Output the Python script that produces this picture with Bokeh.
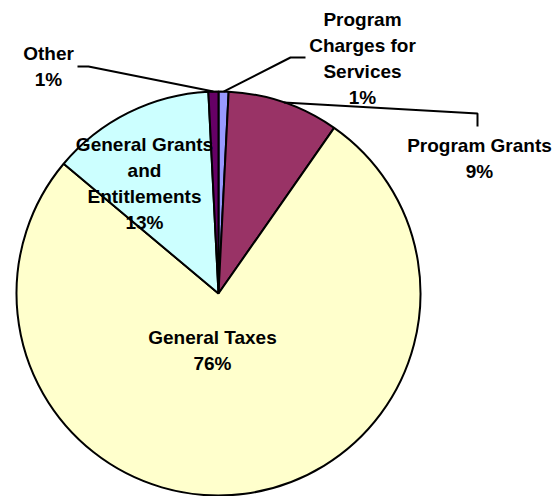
import math
from bokeh.plotting import figure
from bokeh.models import Range1d, ColumnDataSource
from bokeh.core.properties import value
from bokeh.embed import file_html
from bokeh.resources import INLINE

# ---- data ----
categories = ["Program Charges for Services", "Program Grants", "General Taxes",
              "General Grants and Entitlements", "Other"]
shares = [0.8, 8.9, 76.4, 13.1, 0.8]
label_lines = [["Program", "Charges for", "Services"], ["Program Grants"], ["General Taxes"],
               ["General Grants", "and", "Entitlements"], ["Other"]]

# ---- style / layout ----
colors = ["#9999FF", "#993366", "#FFFFCC", "#CCFFFF", "#660066"]
R = 202
LH = 26
FONT = value("Liberation Sans")
label_pos = [(144, 235), (261, 135), (-6, -57), (-74, 110), (-170, 227)]
leaders = {0: [(72, 236), (87, 236)], 1: [(259, 180), (259, 167)], 4: [(-130, 227), (-141, 227)]}

total = sum(shares)
starts, ends, mids = [], [], []
cum = 0.0
for v in shares:
    a0 = math.pi / 2 - 2 * math.pi * cum / total
    cum += v
    a1 = math.pi / 2 - 2 * math.pi * cum / total
    starts.append(a0)
    ends.append(a1)
    mids.append((a0 + a1) / 2)

src = ColumnDataSource(dict(cat=categories, start=starts, end=ends, color=colors))

p = figure(width=560, height=496, x_range=Range1d(-218, 342), y_range=Range1d(-203, 293),
           output_backend="svg", toolbar_location=None, min_border=0,
           x_axis_location=None, y_axis_location=None)
p.grid.visible = False
p.outline_line_color = None
p.background_fill_color = "white"

p.wedge(x=0, y=0, radius=R, start_angle="start", end_angle="end", direction="clock",
        fill_color="color", line_color="black", line_width=2, source=src)

# leader lines
for i, pts in leaders.items():
    sx, sy = R * math.cos(mids[i]), R * math.sin(mids[i])
    xs = [sx] + [q[0] for q in pts]
    ys = [sy] + [q[1] for q in pts]
    p.line(xs, ys, line_color="black", line_width=2)

# labels
tx, ty, tt = [], [], []
for i, v in enumerate(shares):
    lines = label_lines[i] + [f"{round(v)}%"]
    cx, cy = label_pos[i]
    n = len(lines)
    for k, s in enumerate(lines):
        tx.append(cx)
        ty.append(cy + (n - 1) / 2 * LH - k * LH)
        tt.append(s)

p.text(x=tx, y=ty, text=tt, text_font=FONT, text_font_style="bold", text_font_size="19px",
       text_align="center", text_baseline="middle", text_color="black")

open("out.html", "w").write(file_html(p, INLINE))
